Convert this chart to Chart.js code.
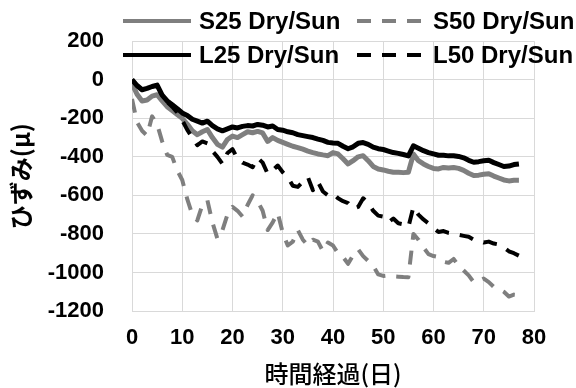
<!DOCTYPE html>
<html>
<head>
<meta charset="utf-8">
<script src="https://cdn.jsdelivr.net/npm/chart.js@4/dist/chart.umd.min.js"></script>
<style>
  html, body { margin: 0; padding: 0; background: #ffffff; }
  #wrap { width: 576px; height: 388px; }
</style>
</head>
<body>
<div id="wrap"><canvas id="strain" width="576" height="388"></canvas></div>
<script>
// Elapsed days of the drying / sun-exposure test
const days = [0, 1, 2, 3, 4, 5, 6, 7, 8, 9, 10, 11, 12, 13, 14, 15, 16, 17, 18, 19,
  20, 21, 22, 23, 24, 25, 26, 27, 28, 29, 30, 31, 32, 33, 34, 35, 36, 37, 38, 39,
  40, 41, 42, 43, 44, 45, 46, 47, 48, 49, 50, 51, 52, 53, 54, 55, 56, 57, 58, 59,
  60, 61, 62, 63, 64, 65, 66, 67, 68, 69, 70, 71, 72, 73, 74, 75, 76, 77];

const seriesNames = ['S25 Dry/Sun', 'S50 Dry/Sun', 'L25 Dry/Sun', 'L50 Dry/Sun'];

// Strain (micro) per day
const s25 = [-20, -75, -110, -105, -85, -78, -110, -140, -160, -180,
  -200, -230, -265, -285, -270, -258, -300, -335, -350, -310,
  -292, -300, -285, -270, -275, -268, -276, -320, -300, -315,
  -325, -335, -345, -352, -360, -370, -378, -385, -390, -394,
  -378, -385, -410, -437, -420, -400, -394, -420, -450, -463,
  -468, -475, -480, -480, -482, -480, -386, -420, -437, -450,
  -460, -463, -455, -458, -455, -460, -470, -485, -497, -495,
  -490, -488, -500, -510, -520, -525, -522, -522];

const s50 = [-100, -220, -265, -290, -190, -230, -320, -390, -400, -470,
  -520, -620, -700, -730, -650, -625, -740, -825, -780, -700,
  -660, -680, -710, -650, -600, -630, -680, -780, -740, -690,
  -795, -860, -840, -780, -830, -860, -830, -840, -890, -845,
  -860, -900, -920, -955, -910, -880, -915, -940, -965, -1010,
  -1018, -1015, -1020, -1022, -1024, -1025, -800, -830, -870, -905,
  -915, -920, -945, -950, -930, -965, -990, -1015, -1050, -1045,
  -1032, -1050, -1075, -1085, -1100, -1125, -1115, -1117];

const l25 = [0, -30, -52, -45, -35, -28, -80, -110, -130, -150,
  -172, -185, -205, -215, -225, -215, -238, -255, -265, -255,
  -245, -250, -242, -238, -240, -232, -236, -245, -240, -258,
  -262, -270, -275, -285, -290, -295, -300, -308, -315, -325,
  -328, -330, -345, -358, -348, -330, -326, -335, -350, -358,
  -362, -370, -378, -382, -388, -395, -343, -355, -368, -378,
  -385, -392, -392, -395, -394, -398, -405, -418, -428, -425,
  -420, -418, -430, -440, -450, -448, -440, -437];

const l50 = [0, -30, -52, -45, -35, -30, -80, -115, -140, -170,
  -210, -260, -300, -340, -320, -330, -370, -400, -437, -380,
  -360, -410, -430, -440, -454, -405, -430, -488, -470, -445,
  -480, -505, -550, -556, -530, -505, -573, -530, -580, -600,
  -590, -615, -630, -640, -670, -660, -615, -640, -680, -705,
  -710, -740, -720, -745, -750, -765, -660, -700, -725, -745,
  -770, -790, -785, -795, -800, -805, -810, -815, -830, -835,
  -845, -840, -850, -855, -870, -890, -900, -913];

const xTicks = [0, 10, 20, 30, 40, 50, 60, 70, 80];
const yTicks = [200, 0, -200, -400, -600, -800, -1000, -1200];

const GRAY = '#7f7f7f';
const BLACK = '#000000';
const DASH = [14, 11];

function series(values, label, color, dashed, order) {
  return {
    label: label,
    data: days.map((d, i) => ({ x: d, y: values[i] })),
    borderColor: color,
    backgroundColor: color,
    borderWidth: dashed ? 4 : 5,
    borderDash: dashed ? DASH : [],
    borderCapStyle: 'butt',
    borderJoinStyle: 'round',
    pointRadius: 0,
    tension: 0,
    fill: false,
    order: order
  };
}

// Two-row legend placed over the top edge of the plot
const cornerLegend = {
  id: 'cornerLegend',
  afterDraw(chart) {
    const ctx = chart.ctx;
    const slots = [[123, 21], [357, 21], [123, 55], [357, 55]];
    ctx.save();
    ctx.font = 'bold 24px "Liberation Sans", Arial, sans-serif';
    ctx.textBaseline = 'middle';
    ctx.textAlign = 'left';
    seriesNames.forEach((name, k) => {
      const ds = chart.data.datasets.find(d => d.label === name);
      const [x, y] = slots[k];
      ctx.strokeStyle = ds.borderColor;
      ctx.lineWidth = 4;
      ctx.lineCap = 'butt';
      ctx.setLineDash(ds.borderDash);
      ctx.beginPath();
      ctx.moveTo(x, y);
      ctx.lineTo(x + 68, y);
      ctx.stroke();
      ctx.setLineDash([]);
      ctx.fillStyle = '#000000';
      ctx.fillText(name, x + 76, y + 1);
    });
    ctx.restore();
  }
};

const tickFont = { family: '"Liberation Sans", Arial, sans-serif', size: 22, weight: 'bold' };

new Chart(document.getElementById('strain'), {
  type: 'line',
  data: {
    datasets: [
      series(s25, seriesNames[0], GRAY, false, 2),
      series(s50, seriesNames[1], GRAY, true, 3),
      series(l25, seriesNames[2], BLACK, false, 0),
      series(l50, seriesNames[3], BLACK, true, 1)
    ]
  },
  options: {
    responsive: false,
    animation: false,
    devicePixelRatio: 1,
    layout: { padding: { left: 0, top: 37, right: 42, bottom: 0 } },
    plugins: {
      legend: { display: false },
      tooltip: { enabled: false }
    },
    scales: {
      x: {
        type: 'linear',
        min: 0,
        max: 80,
        afterBuildTicks: s => { s.ticks = xTicks.map(v => ({ value: v })); },
        afterFit: s => { s.height = 77; },
        grid: { color: '#d9d9d9', lineWidth: 1, drawTicks: false },
        border: { color: '#d9d9d9', width: 1 },
        ticks: { font: tickFont, color: '#000000', padding: 14, maxRotation: 0,
                 callback: v => String(v) },
        title: {
          display: true,
          text: '時間経過(日)',
          color: '#000000',
          font: { family: '"Noto Sans CJK JP", sans-serif', size: 24, weight: 500, lineHeight: 1.2 },
          padding: { top: 0, bottom: 0 }
        }
      },
      y: {
        type: 'linear',
        min: -1200,
        max: 200,
        afterBuildTicks: s => { s.ticks = yTicks.map(v => ({ value: v })); },
        afterFit: s => { s.width = 132; },
        grid: { color: '#d9d9d9', lineWidth: 1, drawTicks: false },
        border: { color: '#d9d9d9', width: 1 },
        ticks: { font: tickFont, color: '#000000', padding: 28,
                 callback: v => String(v) },
        title: {
          display: true,
          text: 'ひずみ(μ)',
          color: '#000000',
          font: { family: '"Noto Sans CJK JP", sans-serif', size: 24, weight: 'bold', lineHeight: 1.2 },
          padding: { top: 6, bottom: 0 }
        }
      }
    }
  },
  plugins: [cornerLegend]
});
</script>
</body>
</html>
